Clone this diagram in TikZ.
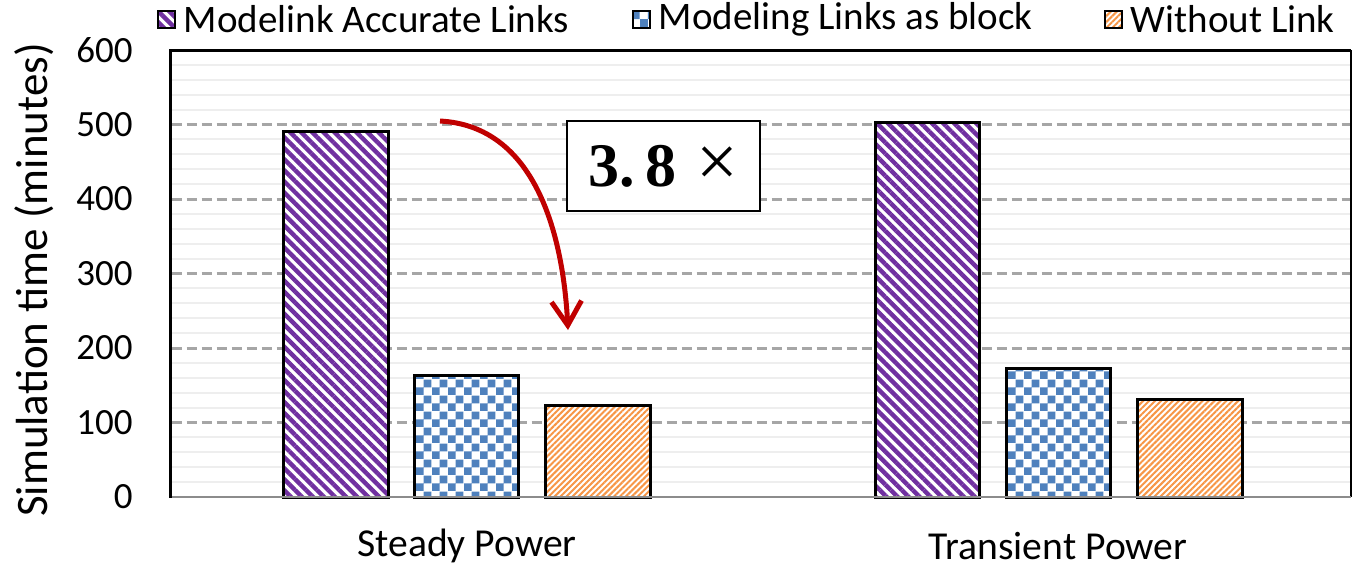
\documentclass[tikz,border=0pt]{standalone}
\usepackage{fontspec}
\setmainfont{Carlito}
\newfontfamily\ratiofont{Liberation Serif}
\usetikzlibrary{positioning, patterns, patterns.meta, arrows.meta}

\definecolor{modpurple}{HTML}{7030A0}
\definecolor{modblue}{HTML}{4F81BD}
\definecolor{modorange}{HTML}{F79646}
\definecolor{arrowred}{HTML}{C00000}
\definecolor{majorgray}{HTML}{A6A6A6}
\definecolor{minorgray}{HTML}{EEEEEE}
\definecolor{axisgray}{HTML}{8C8C8C}

% small blue/white checks for the "as block" bars
\pgfdeclarepattern{
  name=checks,
  type=uncolored,
  bottom left={\pgfpointorigin},
  top right={\pgfpoint{8pt}{8pt}},
  tile size={\pgfpoint{8pt}{8pt}},
  code={
    \pgfpathrectangle{\pgfpointorigin}{\pgfpoint{4.05pt}{4.05pt}}
    \pgfpathrectangle{\pgfpoint{4pt}{4pt}}{\pgfpoint{4.05pt}{4.05pt}}
    \pgfusepath{fill}
  }
}

\tikzset{
  accurate/.style={preaction={fill=white}, pattern={Lines[angle=-45, distance=3.9pt, line width=2.2pt]}, pattern color=modpurple},
  asblock/.style={preaction={fill=white}, pattern=checks, pattern color=modblue},
  nolink/.style={preaction={fill=white}, pattern={Lines[angle=45, distance=2.1pt, line width=1pt]}, pattern color=modorange},
  bar/.style={draw=black, line width=1.5pt},
  gridmajor/.style={majorgray, line width=1.5pt, dash pattern=on 5pt off 2.5pt},
  gridminor/.style={minorgray, line width=1pt},
  ticklabel/.style={anchor=east, font=\fontsize{18.5}{20}\selectfont, inner sep=0pt},
  catlabel/.style={font=\fontsize{19.8}{22}\selectfont, inner sep=0pt},
  legkey/.style={draw=black, line width=1pt, minimum size=8.5pt, inner sep=0pt},
  legtext/.style={font=\fontsize{19.5}{21}\selectfont, inner sep=0pt, anchor=west},
  ratiobox/.style={draw=black, fill=white, line width=1pt, minimum width=96.5pt, minimum height=45pt, font=\ratiofont\fontsize{31}{34}\selectfont},
  redarrow/.style={arrowred, line width=2.5pt, -{Straight Barb[length=12pt, width=15pt]}}
}

\begin{document}
\begin{tikzpicture}[x=0.5pt, y=-0.5pt]
  \useasboundingbox (0,0) rectangle (1353,570);

  % plot area, values in minutes
  \begin{scope}[shift={(170,497)}, x=0.5pt, y=0.3725pt]
    \foreach \v in {20,40,60,80,120,140,160,180,220,240,260,280,320,340,360,380,420,440,460,480,520,540,560,580}
      \draw[gridminor] (1.5,\v) -- (1180,\v);
    \foreach \v in {100,200,...,500}
      \draw[gridmajor] (1.5,\v) -- (1180,\v);
    \foreach \v in {0,100,...,600}
      \node[ticklabel] (tick\v) at (-37,\v) {\v};

    % Steady Power
    \draw[bar, accurate] (113,0) rectangle (218,490);
    \draw[bar, asblock] (244,0) rectangle (348,163);
    \draw[bar, nolink] (375,0) rectangle (480,123);
    % Transient Power
    \draw[bar, accurate] (705,0) rectangle (809,503);
    \draw[bar, asblock] (836,0) rectangle (940,172);
    \draw[bar, nolink] (967,0) rectangle (1072,131);

    \draw[line width=0.8pt] (1181,600) -- (1181,0);
    \draw[axisgray, line width=1.2pt] (0,0) -- (1181,0);
    \draw[line width=1.5pt] (0,-1) -- (0,600) -- (1181,600);
  \end{scope}

  \node[catlabel] (steady) at (467,546) {Steady Power};
  \node[catlabel] (transient) at (1058,546) {Transient Power};
  \node[rotate=90, font=\fontsize{22.5}{25}\selectfont] (ytitle) at (34,280) {Simulation time (minutes)};

  % legend
  \node[legkey, accurate] (keyA) at (166,19) {};
  \node[legtext, right=4pt of keyA] (labA) {Modelink Accurate Links};
  \node[legkey, asblock] (keyB) at (641,19) {};
  \node[legtext, right=4pt of keyB] (labB) {Modeling Links as block};
  \node[legkey, nolink] (keyC) at (1113,19) {};
  \node[legtext, right=4pt of keyC] (labC) {Without Link};

  % speed-up annotation
  \coordinate (arrtail) at (440,121);
  \coordinate (arrhead) at (568,330);
  \draw[redarrow] (arrtail) to[out=-3, in=93] (arrhead);
  \node[ratiobox] (ratio) at (663.5,166) {\textbf{3.\,8}\,\,{\fontsize{37}{38}\selectfont ×}};
\end{tikzpicture}
\end{document}
